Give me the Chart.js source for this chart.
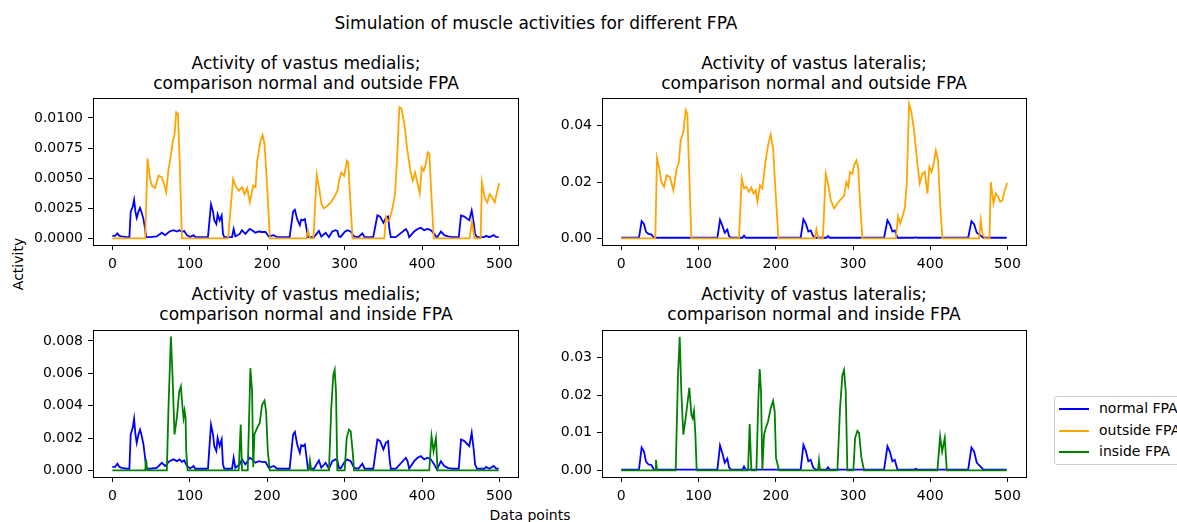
<!DOCTYPE html>
<html>
<head>
<meta charset="utf-8">
<script src="https://cdn.jsdelivr.net/npm/chart.js@4.4.1/dist/chart.umd.min.js"></script>
<style>
  body { margin: 0; width: 1177px; height: 522px; overflow: hidden; position: relative; background: #fff; font-family: "DejaVu Sans", sans-serif; color: #000; }
  canvas { position: absolute; }
  .title { position: absolute; transform: translateX(-50%); text-align: center; font-size: 17px; line-height: 20.4px; white-space: nowrap; }
  .label { position: absolute; font-size: 14px; white-space: nowrap; }
  .legend { position: absolute; left: 1054px; top: 396px; width: 150px; height: 67px; border: 1px solid #cccccc; border-radius: 3px; background: #fff; }
  .legend .row { position: absolute; left: 4px; height: 20px; }
  .legend .swatch { position: absolute; left: 0; top: 10px; width: 30px; height: 2px; }
  .legend .txt { position: absolute; left: 40px; top: 0; font-size: 14px; line-height: 20px; white-space: nowrap; }
</style>
</head>
<body>
<div class="title" style="left:536px; top:13px;">Simulation of muscle activities for different FPA</div>
<div class="title" style="left:306px; top:53px;">Activity of vastus medialis;<br>comparison normal and outside FPA</div>
<div class="title" style="left:814px; top:53px;">Activity of vastus lateralis;<br>comparison normal and outside FPA</div>
<div class="title" style="left:306px; top:284px;">Activity of vastus medialis;<br>comparison normal and inside FPA</div>
<div class="title" style="left:814px; top:284px;">Activity of vastus lateralis;<br>comparison normal and inside FPA</div>
<div class="label" style="left:18px; top:264px; transform: translate(-50%, -50%) rotate(-90deg);">Activity</div>
<div class="label" style="left:530px; top:515px; transform: translate(-50%, -50%);">Data points</div>

<canvas id="tl" width="510" height="175" style="left:20px; top:94px;"></canvas>
<canvas id="tr" width="498" height="175" style="left:540px; top:94px;"></canvas>
<canvas id="bl" width="510" height="175" style="left:20px; top:326px;"></canvas>
<canvas id="br" width="498" height="175" style="left:540px; top:326px;"></canvas>

<div class="legend">
  <div class="row" style="top:1px;"><div class="swatch" style="background:#0000ff;"></div><div class="txt">normal FPA</div></div>
  <div class="row" style="top:23px;"><div class="swatch" style="background:#ffa500;"></div><div class="txt">outside FPA</div></div>
  <div class="row" style="top:44px;"><div class="swatch" style="background:#008000;"></div><div class="txt">inside FPA</div></div>
</div>

<script>
// tick positions
const xTicks = [0, 100, 200, 300, 400, 500];
const yTicksTL = [0, 0.0025, 0.005, 0.0075, 0.01];
const yTicksTR = [0, 0.02, 0.04];
const yTicksBL = [0, 0.002, 0.004, 0.006, 0.008];
const yTicksBR = [0, 0.01, 0.02, 0.03];

// vastus medialis, normal FPA
const vmNormalX = [0, 3.5, 6.5, 9.1, 12.1, 18.6, 22.0, 23.7, 26.3, 28.1, 29.8, 31.5, 33.7, 35.8, 38.0, 40.2, 42.3, 43.6, 48.8, 57.4, 63.9, 68.2, 73.8, 79.0, 83.3, 86.8, 89.8, 92.8, 96.3, 100.6, 104.9, 107.1,
  123.5, 127.4, 130.0, 131.7, 134.3, 136.0, 138.6, 141.2, 142.9, 144.6, 154.6, 156.7, 158.9, 164.5, 167.5, 171.8, 177.5, 180.5, 184.8, 189.1, 193.4, 197.8, 202.1, 208.5, 212.9,
  229.0, 233.5, 235.8, 238.8, 242.2, 244.0, 246.5, 248.7, 250.9, 252.6, 260.4, 266.8, 269.9, 275.5, 279.8, 284.1, 288.4, 290.6, 292.7, 294.9, 300.1, 303.5, 307.8, 312.2, 317.8, 322.9, 326.0,
  337.0, 342.4, 345.9, 350.2, 353.2, 356.2, 357.9, 359.7, 366.2, 379.1, 381.3, 383.4, 389.9, 394.2, 398.5, 402.8, 407.2, 411.5, 415.8, 419.3, 424.4, 428.8, 433.1, 439.6,
  447.5, 450.4, 454.7, 459.0, 461.1, 464.2, 466.8, 468.5, 471.1, 480.6, 482.7, 487.0, 492.6, 495.6, 499];
const vmNormalY = [0.00021, 0.00021, 0.00041, 0.00021, 0.00016, 0.00010, 0.00010, 0.00222, 0.00263, 0.00320, 0.00222, 0.00170, 0.00222, 0.00252, 0.00211, 0.00160, 0.00078, 0.00010, 0.00010, 0.00016, 0.00047, 0.00027, 0.00057, 0.00068, 0.00057, 0.00068, 0.00053, 0.00062, 0.00027, 0.00012, 0.00027, 0.00010,
  0.00010, 0.00283, 0.00222, 0.00150, 0.00119, 0.00201, 0.00150, 0.00191, 0.00037, 0.00010, 0.00010, 0.00078, 0.00016, 0.00037, 0.00068, 0.00037, 0.00078, 0.00068, 0.00047, 0.00057, 0.00053, 0.00053, 0.00016, 0.00027, 0.00010,
  0.00010, 0.00222, 0.00238, 0.00160, 0.00109, 0.00156, 0.00150, 0.00160, 0.00078, 0.00010, 0.00010, 0.00062, 0.00016, 0.00047, 0.00010, 0.00057, 0.00068, 0.00062, 0.00016, 0.00012, 0.00053, 0.00068, 0.00057, 0.00016, 0.00010, 0.00041, 0.00010,
  0.00010, 0.00191, 0.00181, 0.00129, 0.00170, 0.00181, 0.00078, 0.00010, 0.00010, 0.00078, 0.00057, 0.00010, 0.00057, 0.00078, 0.00088, 0.00068, 0.00078, 0.00068, 0.00037, 0.00006, 0.00057, 0.00027, 0.00016, 0.00010,
  0.00010, 0.00191, 0.00181, 0.00160, 0.00150, 0.00232, 0.00129, 0.00037, 0.00010, 0.00010, 0.00021, 0.00010, 0.00027, 0.00012, 0.00010];

// vastus medialis, outside FPA
const vmOutsideX = [0, 42.5, 45.4, 48.8, 51.0, 55.3, 59.6, 63.9, 67.0, 69.6, 72.6, 75.6, 78.2, 80.4, 82.5, 84.7, 86.8, 89.9,
  149.5, 156.0, 159.0, 163.3, 167.6, 170.7, 174.1, 177.6, 181.9, 184.9, 187.1, 191.4, 194.0, 196.6, 200.0, 203.5,
  250.5, 252.8, 255.4, 259.7, 264.0, 267.0, 270.1, 273.5, 277.8, 282.1, 286.5, 290.8, 292.9, 295.9, 299.4, 302.9, 304.6, 307.2, 310.2,
  351.3, 353.4, 355.6, 357.7, 362.1, 365.1, 367.7, 370.7, 373.7, 377.2, 380.6, 385.0, 388.0, 391.0, 394.5, 397.1, 399.7, 402.3, 404.8, 407.4, 409.6, 411.8, 415.2,
  461.4, 464.5, 467.9, 475.7, 477.4, 480.9, 484.3, 487.4, 490.4, 493.9, 497.3, 499.9];
const vmOutsideY = [0, 0, 0.00665, 0.00493, 0.00438, 0.00418, 0.00521, 0.00507, 0.00446, 0.00382, 0.00576, 0.00687, 0.00812, 0.00867, 0.01047, 0.01033, 0.00673, 0,
  0, 0.00493, 0.00438, 0.00396, 0.00424, 0.00368, 0.00418, 0.00299, 0.00438, 0.00424, 0.00645, 0.00812, 0.00859, 0.00784, 0.00424, 0,
  0, 0.00064, 0, 0, 0.00529, 0.00424, 0.00285, 0.00249, 0.00271, 0.00299, 0.00341, 0.00396, 0.00479, 0.00548, 0.00520, 0.00645, 0.00632, 0.00341, 0,
  0, 0.00175, 0.00147, 0.00147, 0.00258, 0.00368, 0.00645, 0.01089, 0.01075, 0.00950, 0.00756, 0.00562, 0.00479, 0.00548, 0.00452, 0.00374, 0.00590, 0.00562, 0.00618, 0.00715, 0.00701, 0.00396, 0,
  0, 0.00141, 0, 0, 0.00465, 0.00341, 0.00299, 0.00368, 0.00341, 0.00299, 0.00396, 0.00457];

// vastus medialis, inside FPA
const vmInsideX = [0, 42.5, 43.6, 45.0, 70.4, 72.5, 75.6, 77.7, 80.3, 83.3, 86.4, 88.5, 90.7, 92.0, 93.3, 94.6, 95.4, 97.2,
  163.2, 165.8, 167.5, 174.9, 178.3, 180.5, 182.0, 183.5, 187.0, 190.4, 193.4, 196.5, 198.6, 200.8, 203.4,
  253.5, 255.2, 256.9, 279.8, 282.8, 285.4, 287.2, 288.9, 290.6, 300.1, 302.7, 305.7, 307.8, 310.4, 312.2,
  409.3, 412.3, 414.9, 418.0, 420.1, 499];
const vmInsideY = [0, 0, 0.00068, 0, 0, 0.00386, 0.00827, 0.00591, 0.00222, 0.00324, 0.00488, 0.00519, 0.00386, 0.00324, 0.00369, 0.00324, 0.00119, 0,
  0, 0.00283, 0, 0, 0.00632, 0.00488, 0.00020, 0.00222, 0.00263, 0.00293, 0.00406, 0.00431, 0.00365, 0.00119, 0,
  0, 0.00062, 0, 0, 0.00386, 0.00591, 0.00622, 0.00488, 0, 0, 0.00201, 0.00252, 0.00242, 0.00119, 0,
  0, 0.00211, 0.00119, 0.00201, 0, 0];

// vastus lateralis, normal FPA
const vlNormalX = [0, 22.9, 26.3, 29.4, 32.0, 35.0, 38.9, 42.3, 124.4, 127.8, 130.8, 133.9, 137.3, 139.5, 141.6, 157.0, 158.9, 161.0,
  232.3, 235.8, 238.8, 242.2, 245.3, 248.3, 251.7, 265.5, 267.7, 269.5, 340.2, 344.6, 348.0, 351.0, 354.1, 357.5, 379.0, 381.0, 383.0,
  449.1, 453.4, 456.8, 460.3, 464.6, 468.9, 499];
const vlNormalY = [0.0002, 0.0002, 0.0061, 0.0050, 0.0023, 0.0016, 0.0014, 0.0002, 0.0002, 0.0066, 0.0046, 0.0020, 0.0031, 0.0008, 0.0002, 0.0002, 0.0010, 0.0002,
  0.0002, 0.0068, 0.0053, 0.0024, 0.0028, 0.0008, 0.0002, 0.0002, 0.0008, 0.0002, 0.0002, 0.0064, 0.0048, 0.0024, 0.0028, 0.0002, 0.0002, 0.0004, 0.0002,
  0.0002, 0.0061, 0.0050, 0.0020, 0.0011, 0.0002, 0.0002];

// vastus lateralis, outside FPA
const vlOutsideX = [0, 44.0, 46.2, 49.2, 51.8, 55.3, 58.7, 63.0, 67.4, 71.7, 74.3, 76.9, 80.3, 83.3, 85.5, 88.1, 90.7,
  152.4, 155.9, 158.9, 161.9, 165.4, 168.4, 171.0, 174.0, 176.2, 179.6, 182.6, 186.9, 190.0, 193.4, 196.5, 199.9, 203.4,
  250.5, 252.6, 255.2, 261.0, 264.7, 267.7, 271.2, 275.5, 279.8, 284.1, 288.4, 291.5, 294.0, 296.2, 299.2, 301.4, 304.4, 306.6, 309.2, 312.2,
  355.4, 358.4, 361.0, 364.0, 367.0, 369.6, 372.6, 375.6, 379.1, 383.4, 386.4, 389.9, 392.9, 396.4, 398.9, 401.6, 404.1, 407.2, 410.2, 412.8, 415.8,
  463.3, 465.5, 467.6, 470.6, 476.7, 478.4, 481.9, 484.9, 487.9, 490.5, 493.5, 496.5, 499.6];
const vlOutsideY = [0, 0, 0.02855, 0.02478, 0.02006, 0.01829, 0.02242, 0.02183, 0.01711, 0.02478, 0.02655, 0.03481, 0.03776, 0.04566, 0.04425, 0.02183, 0,
  0, 0.02124, 0.01770, 0.01829, 0.01652, 0.01805, 0.01593, 0.01711, 0.01298, 0.01888, 0.01770, 0.02773, 0.03304, 0.03693, 0.03186, 0.01593, 0,
  0, 0.00319, 0, 0, 0.02301, 0.01947, 0.01357, 0.01062, 0.01239, 0.01381, 0.01499, 0.01999, 0.01829, 0.02360, 0.02301, 0.02596, 0.02773, 0.02537, 0.01239, 0,
  0, 0.00791, 0.00531, 0.00767, 0.01062, 0.01947, 0.04779, 0.04484, 0.03835, 0.02655, 0.01947, 0.02301, 0.02360, 0.01593, 0.02537, 0.02360, 0.02596, 0.03127, 0.02773, 0.01239, 0,
  0, 0.00649, 0.00177, 0, 0, 0.02006, 0.01239, 0.01593, 0.01475, 0.01298, 0.01357, 0.01711, 0.01970];

// vastus lateralis, inside FPA
const vlInsideX = [0, 44.0, 44.9, 46.2, 70.4, 73.4, 75.6, 77.7, 80.3, 83.3, 86.4, 88.1, 90.7, 92.4, 94.1, 95.9, 97.6,
  164.1, 166.2, 168.4, 174.9, 177.5, 179.2, 180.9, 182.6, 184.8, 186.9, 190.0, 193.4, 196.5, 198.6, 200.3, 204.2,
  254.7, 256.0, 257.3, 279.8, 283.2, 286.3, 288.4, 290.6, 292.7, 300.5, 302.7, 305.7, 307.9, 310.9, 314.3,
  409.3, 412.8, 415.4, 418.8, 421.4, 499];
const vlInsideY = [0, 0, 0.0028, 0, 0, 0.0254, 0.0356, 0.0210, 0.0095, 0.0139, 0.0192, 0.0220, 0.0148, 0.0139, 0.0158, 0.0095, 0,
  0, 0.0123, 0, 0, 0.0192, 0.0270, 0.0210, 0, 0.0095, 0.0112, 0.0130, 0.0165, 0.0185, 0.0157, 0.0033, 0,
  0, 0.0026, 0, 0, 0.0165, 0.0254, 0.0267, 0.0210, 0, 0, 0.0086, 0.0105, 0.0099, 0.0033, 0,
  0, 0.0090, 0.0050, 0.0086, 0, 0];

const BLUE = "#0000ff", ORANGE = "#ffa500", GREEN = "#008000";

// black box around the plot area, like matplotlib spines
const frame = {
  id: "frame",
  afterDraw(chart) {
    const a = chart.chartArea, c = chart.ctx;
    c.save();
    c.strokeStyle = "#000";
    c.lineWidth = 1;
    c.strokeRect(Math.round(a.left) + 0.5, Math.round(a.top) + 0.5, Math.round(a.right - a.left), Math.round(a.bottom - a.top));
    c.restore();
  }
};

function toPoints(xs, ys) {
  return xs.map((x, i) => ({ x: x, y: ys[i] }));
}

function makePlot(id, lines, yMin, yMax, yTicks, digits, yWidth) {
  let ctx = document.getElementById(id).getContext("2d");
  return new Chart(ctx, {
    type: "line",
    data: {
      datasets: lines.map((l, i) => ({
        data: toPoints(l[0], l[1]),
        borderColor: l[2],
        borderWidth: 1.8,
        pointRadius: 0,
        tension: 0,
        fill: false,
        order: lines.length - i
      }))
    },
    options: {
      responsive: false,
      animation: false,
      devicePixelRatio: 1,
      layout: { autoPadding: false, padding: { top: 4, right: 12, left: 0, bottom: 0 } },
      plugins: { legend: { display: false }, tooltip: { enabled: false } },
      scales: {
        x: {
          type: "linear", min: -25, max: 524,
          afterBuildTicks: s => { s.ticks = xTicks.map(v => ({ value: v })); },
          afterFit: s => { s.height = 24; s.paddingLeft = 0; s.paddingRight = 0; },
          grid: { drawOnChartArea: false, tickLength: 5, color: "#000" },
          border: { color: "#000" },
          ticks: { color: "#000", padding: 6, maxRotation: 0, font: { family: "DejaVu Sans", size: 14 }, callback: v => String(v) }
        },
        y: {
          type: "linear", min: yMin, max: yMax,
          afterBuildTicks: s => { s.ticks = yTicks.map(v => ({ value: v })); },
          afterFit: s => { s.width = yWidth; s.paddingTop = 0; s.paddingBottom = 0; },
          grid: { drawOnChartArea: false, tickLength: 5, color: "#000" },
          border: { color: "#000" },
          ticks: { color: "#000", padding: 5, font: { family: "DejaVu Sans", size: 14 }, callback: v => v.toFixed(digits) }
        }
      }
    },
    plugins: [frame]
  });
}

makePlot("tl", [[vmNormalX, vmNormalY, BLUE], [vmOutsideX, vmOutsideY, ORANGE]], -0.00055, 0.01166, yTicksTL, 4, 73);
makePlot("tr", [[vlNormalX, vlNormalY, BLUE], [vlOutsideX, vlOutsideY, ORANGE]], -0.00238, 0.0499, yTicksTR, 2, 62);
makePlot("bl", [[vmNormalX, vmNormalY, BLUE], [vmInsideX, vmInsideY, GREEN]], -0.00041, 0.00868, yTicksBL, 3, 73);
makePlot("br", [[vlNormalX, vlNormalY, BLUE], [vlInsideX, vlInsideY, GREEN]], -0.00178, 0.03738, yTicksBR, 2, 62);
</script>
</body>
</html>
